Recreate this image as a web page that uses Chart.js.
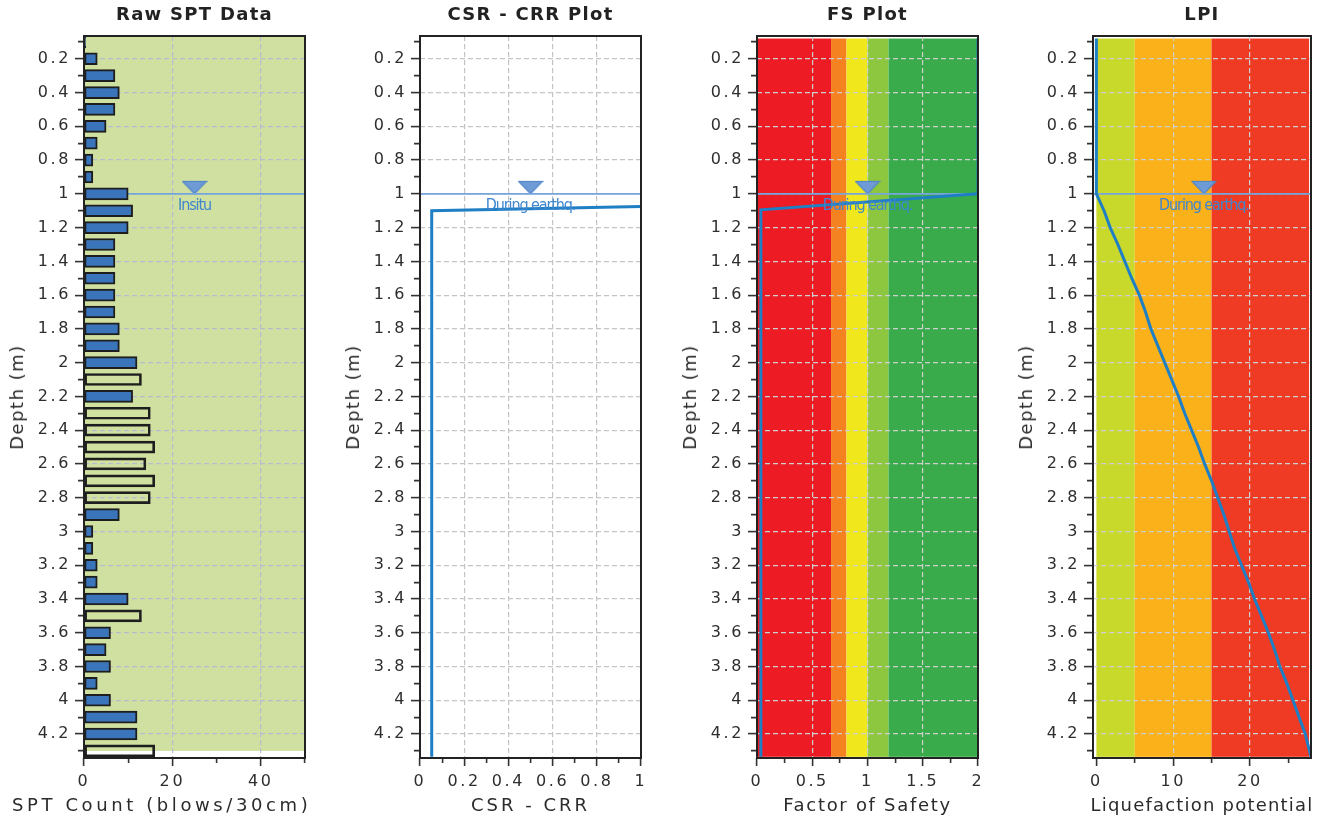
<!DOCTYPE html>
<html>
<head>
<meta charset="utf-8">
<title>Liquefaction plots</title>
<script src="https://cdn.jsdelivr.net/npm/chart.js@4.4.1/dist/chart.umd.min.js"></script>
<style>
    body {
        margin: 0;
        width: 1325px;
        height: 818px;
        overflow: hidden;
        background: #ffffff;
        font-family: 'DejaVu Sans', sans-serif;
        color: #2b2b2b;
        position: relative;
    }
    .panel { position: absolute; top: 0; height: 818px; }
    .panel canvas { position: absolute; left: 0; top: 0; }
    .ptitle {
        position: absolute; top: 5px; left: 84px; width: 221px;
        text-align: center; font-weight: bold; font-size: 18px; line-height: 18px;
        letter-spacing: 1.3px; color: #222; white-space: nowrap;
    }
    .xtitle {
        position: absolute; top: 796px; font-size: 18px; line-height: 18px;
        white-space: nowrap; text-align: center;
    }
    .ytitle {
        position: absolute; left: 17px; top: 397px; font-size: 18px; line-height: 18px;
        letter-spacing: 1.5px; white-space: nowrap;
        transform: translate(-50%, -50%) rotate(-90deg);
    }
</style>
</head>
<body>

<div class="panel" style="left:0px;width:336px">
    <canvas id="sptChart" width="336" height="818"></canvas>
    <div class="ptitle">Raw SPT Data</div>
    <div class="ytitle">Depth (m)</div>
    <div class="xtitle" style="left:12px;letter-spacing:3.6px;text-align:left">SPT Count (blows/30cm)</div>
</div>
<div class="panel" style="left:336px;width:336px">
    <canvas id="csrChart" width="336" height="818"></canvas>
    <div class="ptitle">CSR - CRR Plot</div>
    <div class="ytitle">Depth (m)</div>
    <div class="xtitle" style="left:84px;width:221px;letter-spacing:3px">CSR - CRR</div>
</div>
<div class="panel" style="left:673px;width:336px">
    <canvas id="fsChart" width="336" height="818"></canvas>
    <div class="ptitle">FS Plot</div>
    <div class="ytitle">Depth (m)</div>
    <div class="xtitle" style="left:84px;width:221px;letter-spacing:1.7px">Factor of Safety</div>
</div>
<div class="panel" style="left:1009px;width:316px">
    <canvas id="lpiChart" width="316" height="818"></canvas>
    <div class="ptitle" style="width:218px">LPI</div>
    <div class="ytitle">Depth (m)</div>
    <div class="xtitle" style="left:80px;width:226px;letter-spacing:1.2px">Liquefaction potential</div>
</div>

<script>
// ===== DATA =====

// depth axis (shared by all four panels)
const depthMin = 0.065;
const depthMax = 4.342;
const depthMajor = [0.2, 0.4, 0.6, 0.8, 1, 1.2, 1.4, 1.6, 1.8, 2, 2.2, 2.4, 2.6, 2.8, 3, 3.2, 3.4, 3.6, 3.8, 4, 4.2];
const depthMinor = [0.1, 0.3, 0.5, 0.7, 0.9, 1.1, 1.3, 1.5, 1.7, 1.9, 2.1, 2.3, 2.5, 2.7, 2.9, 3.1, 3.3, 3.5, 3.7, 3.9, 4.1, 4.3];

// ground water table
const waterDepth = 1.0;

// Raw SPT data
const sptDepth = [0.1, 0.2, 0.3, 0.4, 0.5, 0.6, 0.7, 0.8, 0.9, 1.0, 1.1, 1.2, 1.3, 1.4, 1.5, 1.6, 1.7, 1.8, 1.9, 2.0,
                  2.1, 2.2, 2.3, 2.4, 2.5, 2.6, 2.7, 2.8, 2.9, 3.0, 3.1, 3.2, 3.3, 3.4, 3.5, 3.6, 3.7, 3.8, 3.9, 4.0,
                  4.1, 4.2, 4.3];
const sptCount = [0.4, 3, 7, 8, 7, 5, 3, 2, 2, 10, 11, 10, 7, 7, 7, 7, 7, 8, 8, 12,
                  13, 11, 15, 15, 16, 14, 16, 15, 8, 2, 2, 3, 3, 10, 13, 6, 5, 6, 3, 6,
                  12, 12, 16];
const sptOutlined = [2.1, 2.3, 2.4, 2.5, 2.6, 2.7, 2.8, 3.5, 4.3];
const sptTicks = [0, 10, 20, 30, 40, 50];
const sptLabels = [0, 20, 40];

// CSR - CRR
const csrDepth = [4.335, 1.1, 1.075];
const csrValue = [0.053, 0.053, 1.0];
const csrTicks = [0, 0.1, 0.2, 0.3, 0.4, 0.5, 0.6, 0.7, 0.8, 0.9, 1];
const csrLabels = [0, 0.2, 0.4, 0.6, 0.8, 1];

// Factor of safety
const fsDepth = [0.08, 1.0, 1.095, 4.335];
const fsValue = [2, 2, 0.035, 0.035];
const fsTicks = [0, 0.25, 0.5, 0.75, 1, 1.25, 1.5, 1.75, 2];
const fsLabels = [0, 0.5, 1, 1.5, 2];
const fsZoneEdges = [0, 0.67, 0.81, 1.0, 1.19, 2];
const fsZoneColors = ['#ed1c24', '#f58220', '#f0e81c', '#8dc63f', '#39ab4a'];

// Liquefaction potential index
const lpiDepth = [0.08, 1.0, 1.1, 1.2, 1.3, 1.4, 1.5, 1.6, 1.7, 1.8, 1.9, 2.0, 2.1, 2.2, 2.3, 2.4, 2.5, 2.6,
                  2.7, 2.8, 2.9, 3.0, 3.1, 3.2, 3.3, 3.4, 3.5, 3.6, 3.7, 3.8, 3.9, 4.0, 4.1, 4.2, 4.335];
const lpiValue = [0, 0, 1.0, 1.8, 2.8, 3.7, 4.6, 5.6, 6.4, 7.1, 8.0, 8.9, 9.8, 10.7, 11.5, 12.4, 13.3, 14.1,
                  15.0, 15.8, 16.6, 17.3, 18.0, 18.9, 19.8, 20.6, 21.5, 22.4, 23.2, 23.9, 24.8, 25.6, 26.4, 27.2, 27.95];
const lpiTicks = [0, 5, 10, 15, 20, 25];
const lpiLabels = [0, 10, 20];
const lpiZoneEdges = [0, 5, 15, 27.7];
const lpiZoneColors = ['#c9d92b', '#fbb11a', '#ef3b24'];

// zone depth extents
const zoneTop = 0.08;
const zoneBottom = 4.335;
const sptZoneBottom = 4.3;

// ===== STYLE =====
const FONT = "'DejaVu Sans', sans-serif";
const TICK_COLOR = '#2e2e2e';
const LINE_BLUE = '#1f7fc4';
const WATER_BLUE = '#74a5dd';
const LABEL_BLUE = '#3f86cf';

// ===== HELPERS =====

// flat "water table" triangle used as a point style
function makeWaterMarker() {
    const c = document.createElement('canvas');
    c.width = 26;
    c.height = 28;
    const g = c.getContext('2d');
    g.beginPath();
    g.moveTo(1, 1.5);
    g.lineTo(25, 1.5);
    g.lineTo(13, 14);
    g.closePath();
    g.fillStyle = '#6e9bd6';
    g.fill();
    g.strokeStyle = '#4f86c8';
    g.lineWidth = 1.2;
    g.stroke();
    return c;
}
const waterMarker = makeWaterMarker();

function toPoints(xs, ys) {
    return xs.map((v, i) => ({ x: v, y: ys[i] }));
}

function zonesFrom(edges, colors, top, bottom) {
    return colors.map((c, i) => ({ from: edges[i], to: edges[i + 1], top: top, bottom: bottom, color: c }));
}

// zones, frame, water-table label
const panelDecor = {
    id: 'panelDecor',
    beforeDraw(chart, args, opts) {
        const { ctx, scales: { x, y } } = chart;
        ctx.save();
        (opts.zones || []).forEach(z => {
            const l = x.getPixelForValue(z.from);
            const r = x.getPixelForValue(z.to);
            const t = y.getPixelForValue(z.top);
            const b = y.getPixelForValue(z.bottom);
            ctx.fillStyle = z.color;
            ctx.fillRect(l, t, r - l, b - t);
        });
        ctx.restore();
        // wide tick text like the original
        ctx.letterSpacing = '2.6px';
    },
    afterDatasetsDraw(chart, args, opts) {
        if (!opts.label) return;
        const { ctx, scales: { x, y } } = chart;
        ctx.save();
        ctx.letterSpacing = '-1.1px';
        ctx.font = "16px 'Liberation Sans Narrow', 'DejaVu Sans Condensed', sans-serif";
        ctx.fillStyle = LABEL_BLUE;
        ctx.textAlign = 'center';
        ctx.textBaseline = 'middle';
        ctx.fillText(opts.label, x.getPixelForValue(opts.labelX), y.getPixelForValue(waterDepth) + 12);
        ctx.restore();
    },
    afterDraw(chart) {
        const { ctx, chartArea: a } = chart;
        ctx.save();
        ctx.strokeStyle = '#222';
        ctx.lineWidth = 2;
        ctx.strokeRect(a.left, a.top, a.right - a.left, a.bottom - a.top);
        ctx.restore();
        ctx.letterSpacing = '0px';
    }
};

function fmt(v) {
    return String(v);
}

function depthScale(gridColor) {
    const ticks = depthMajor.concat(depthMinor).sort((a, b) => a - b);
    return {
        type: 'linear',
        reverse: true,
        min: depthMin,
        max: depthMax,
        offset: false,
        afterBuildTicks: s => { s.ticks = ticks.map(v => ({ value: v })); },
        afterFit: s => { s.width = 84; },
        ticks: {
            autoSkip: false,
            padding: 4,
            color: TICK_COLOR,
            font: { family: FONT, size: 16 },
            callback: v => depthMajor.includes(v) ? fmt(v) : ''
        },
        grid: {
            offset: false,
            color: c => depthMajor.includes(c.tick.value) ? gridColor : 'rgba(0,0,0,0)',
            lineWidth: 1.2,
            tickLength: 9,
            tickWidth: 1.6,
            tickColor: '#333',
            tickBorderDash: c => depthMajor.includes(c.tick.value) ? [] : [0, 3, 6, 40]
        },
        border: { display: false, dash: [5, 3] }
    };
}

function valueScale(min, max, tickValues, labelValues, gridColor) {
    return {
        type: 'linear',
        min: min,
        max: max,
        offset: false,
        afterBuildTicks: s => { s.ticks = tickValues.map(v => ({ value: v })); },
        afterFit: s => { s.height = 60; },
        ticks: {
            autoSkip: false,
            maxRotation: 0,
            padding: 6,
            color: TICK_COLOR,
            font: { family: FONT, size: 16 },
            callback: v => labelValues.includes(v) ? fmt(v) : ''
        },
        grid: {
            offset: false,
            color: c => (labelValues.includes(c.tick.value) && c.tick.value > min && c.tick.value < max && c.tick.value !== 0)
                ? gridColor : 'rgba(0,0,0,0)',
            lineWidth: 1.2,
            tickLength: 8,
            tickWidth: 1.6,
            tickColor: '#333',
            tickBorderDash: c => labelValues.includes(c.tick.value) ? [] : [5, 40]
        },
        border: { display: false, dash: [5, 3] }
    };
}

function waterDatasets(xMin, xMax, markerX) {
    return [
        {
            type: 'scatter', showLine: true,
            data: [{ x: xMin, y: waterDepth }, { x: xMax, y: waterDepth }],
            borderColor: WATER_BLUE, borderWidth: 1.6, pointRadius: 0
        },
        {
            type: 'scatter',
            data: [{ x: markerX, y: waterDepth }],
            pointStyle: waterMarker, pointRadius: 6
        }
    ];
}

function makePanel(id, cfg) {
    const el = document.getElementById(id);
    return new Chart(el.getContext('2d'), {
        type: 'scatter',
        data: { datasets: cfg.datasets },
        options: {
            responsive: false,
            animation: false,
            devicePixelRatio: 1,
            events: [],
            layout: { padding: { left: 0, top: 36, right: cfg.rightPad, bottom: 0 } },
            plugins: {
                legend: { display: false },
                tooltip: { enabled: false },
                panelDecor: { zones: cfg.zones, label: cfg.label, labelX: cfg.markerX }
            },
            scales: {
                x: valueScale(cfg.xMin, cfg.xMax, cfg.xTicks, cfg.xLabels, cfg.gridColor),
                y: depthScale(cfg.gridColor)
            }
        },
        plugins: [panelDecor]
    });
}

// ===== BUILD =====
document.addEventListener('DOMContentLoaded', function() {

    // Raw SPT
    makePanel('sptChart', {
        xMin: 0, xMax: 50, xTicks: sptTicks, xLabels: sptLabels,
        gridColor: '#b8bacd', rightPad: 31, markerX: 25, label: 'Insitu',
        zones: [{ from: 0, to: 50, top: depthMin, bottom: sptZoneBottom, color: '#cfe0a1' }],
        datasets: [
            {
                type: 'bar',
                indexAxis: 'y',
                data: toPoints(sptCount, sptDepth),
                backgroundColor: sptDepth.map(d => sptOutlined.includes(d) ? 'rgba(0,0,0,0)' : '#3a74bb'),
                borderColor: '#1e1e1e',
                borderWidth: 2,
                borderSkipped: false,
                barThickness: 12
            }
        ].concat(waterDatasets(0, 50, 25))
    });

    // CSR - CRR
    makePanel('csrChart', {
        xMin: 0, xMax: 1, xTicks: csrTicks, xLabels: csrLabels,
        gridColor: '#c4c4c4', rightPad: 31, markerX: 0.5, label: 'During earthq.',
        zones: [],
        datasets: [
            {
                type: 'scatter', showLine: true,
                data: toPoints(csrValue, csrDepth),
                borderColor: LINE_BLUE, borderWidth: 3, pointRadius: 0
            }
        ].concat(waterDatasets(0, 1, 0.5))
    });

    // Factor of safety
    makePanel('fsChart', {
        xMin: 0, xMax: 2, xTicks: fsTicks, xLabels: fsLabels,
        gridColor: '#cfcfcf', rightPad: 31, markerX: 1, label: 'During earthq.',
        zones: zonesFrom(fsZoneEdges, fsZoneColors, zoneTop, zoneBottom),
        datasets: [
            {
                type: 'scatter', showLine: true,
                data: toPoints(fsValue, fsDepth),
                borderColor: LINE_BLUE, borderWidth: 3, pointRadius: 0
            }
        ].concat(waterDatasets(0, 2, 1))
    });

    // LPI
    makePanel('lpiChart', {
        xMin: -0.44, xMax: 27.95, xTicks: lpiTicks, xLabels: lpiLabels,
        gridColor: '#cfcfcf', rightPad: 14, markerX: 14, label: 'During earthq.',
        zones: zonesFrom(lpiZoneEdges, lpiZoneColors, zoneTop, zoneBottom),
        datasets: [
            {
                type: 'scatter', showLine: true,
                data: toPoints(lpiValue, lpiDepth),
                borderColor: LINE_BLUE, borderWidth: 3, pointRadius: 0
            }
        ].concat(waterDatasets(-0.44, 27.95, 14))
    });
});
</script>
</body>
</html>
